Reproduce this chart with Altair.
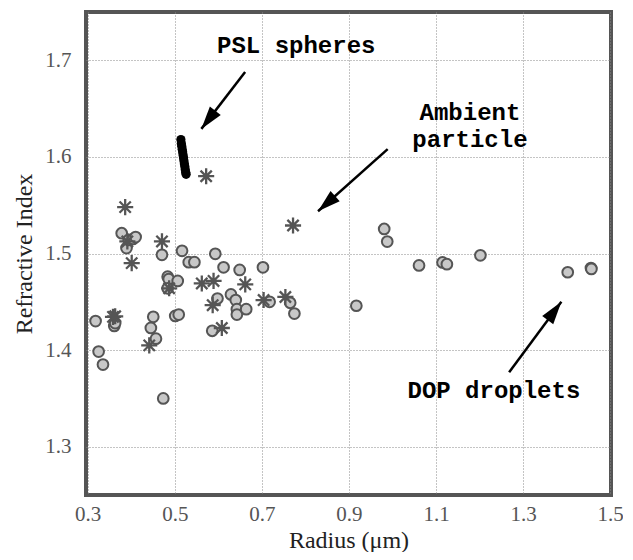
import math
import altair as alt
import pandas as pd

# DOP droplets / circles
circ_r = [0.318, 0.325, 0.335, 0.361, 0.363, 0.378, 0.389, 0.394, 0.404, 0.410,
          0.4705, 0.445, 0.4505, 0.4567, 0.4735, 0.4836, 0.486, 0.4836, 0.5067, 0.501,
          0.509, 0.5166, 0.532, 0.545, 0.593, 0.612, 0.586, 0.598, 0.629, 0.640,
          0.6426, 0.6426, 0.664, 0.649, 0.7025, 0.7178, 0.765, 0.7747, 0.917, 0.981,
          0.988, 1.061, 1.115, 1.125, 1.202, 1.4026, 1.456, 1.457]
circ_n = [1.430, 1.3985, 1.385, 1.425, 1.428, 1.521, 1.5056, 1.514, 1.515, 1.517,
          1.4986, 1.423, 1.4344, 1.4118, 1.350, 1.476, 1.4735, 1.4639, 1.4716, 1.4354,
          1.4368, 1.5028, 1.491, 1.491, 1.4997, 1.4857, 1.420, 1.4534, 1.4576, 1.4518,
          1.4424, 1.4368, 1.4424, 1.483, 1.4857, 1.45, 1.449, 1.4378, 1.4459, 1.5254,
          1.5123, 1.4877, 1.4907, 1.489, 1.4981, 1.4806, 1.485, 1.484]

# Ambient particles (asterisks)
star_r = [0.386, 0.391, 0.401, 0.4705, 0.358, 0.363, 0.4413, 0.487, 0.562, 0.589,
          0.587, 0.608, 0.6618, 0.704, 0.754, 0.572, 0.7716]
star_n = [1.548, 1.5125, 1.490, 1.5125, 1.4344, 1.435, 1.4049, 1.464, 1.469, 1.4716,
          1.4465, 1.4229, 1.468, 1.4518, 1.455, 1.580, 1.529]

# PSL spheres
psl_r = [0.514, 0.515, 0.516, 0.517, 0.518, 0.519, 0.520, 0.521, 0.522, 0.523, 0.524, 0.525, 0.526]
psl_n = [1.618, 1.614, 1.611, 1.608, 1.605, 1.602, 1.599, 1.596, 1.593, 1.590, 1.587, 1.584, 1.582]

# Annotations
label_text = ["PSL spheres", "Ambient", "particle", "DOP droplets"]
label_r = [0.779, 1.178, 1.178, 1.233]
label_n = [1.7146, 1.6455, 1.6175, 1.358]

arrow_tail_r = [0.6615, 0.989, 1.268]
arrow_tail_n = [1.688, 1.608, 1.377]
arrow_head_r = [0.561, 0.829, 1.388]
arrow_head_n = [1.629, 1.5437, 1.450]

x_ticks = [0.3, 0.5, 0.7, 0.9, 1.1, 1.3, 1.5]
y_ticks = [1.3, 1.4, 1.5, 1.6, 1.7]

W, H = 525, 483
XDOM = [0.296, 1.502]
YDOM = [1.25, 1.75]
px_x = W / (XDOM[1] - XDOM[0])
px_y = H / (YDOM[1] - YDOM[0])

angles = []
for tr, tn, hr, hn in zip(arrow_tail_r, arrow_tail_n, arrow_head_r, arrow_head_n):
    dx = (hr - tr) * px_x
    dy = -(hn - tn) * px_y
    a = math.degrees(math.atan2(dx, -dy)) % 360
    angles.append(a)

circ_df = pd.DataFrame({"r": circ_r, "n": circ_n})
star_df = pd.DataFrame({"r": star_r, "n": star_n})
psl_df = pd.DataFrame({"r": psl_r, "n": psl_n})
lab_df = pd.DataFrame({"r": label_r, "n": label_n, "t": label_text})
arr_df = pd.DataFrame({"r": arrow_tail_r, "n": arrow_tail_n, "r2": arrow_head_r,
                       "n2": arrow_head_n, "a": angles})

xs = alt.Scale(domain=XDOM, nice=False, zero=False)
ys = alt.Scale(domain=YDOM, nice=False, zero=False)

X = alt.X("r:Q", scale=xs, axis=alt.Axis(values=x_ticks, format=".1f", title="Radius (\u03bcm)",
                                          titleY=52, titleBaseline="alphabetic", labelPadding=8,
                                          labelFlush=False))
Y = alt.Y("n:Q", scale=ys, axis=alt.Axis(values=y_ticks, format=".1f", title="Refractive Index",
                                          titleX=-62, titleBaseline="middle", labelPadding=15,
                                          labelFlush=False))

circles = alt.Chart(circ_df).mark_point(
    shape="circle", filled=True, fill="#c8c8c8", stroke="#555555", strokeWidth=2,
    size=115, opacity=1
).encode(x=X, y=Y)

stars = alt.Chart(star_df).mark_point(
    shape="M-1,0L1,0M0,-1L0,1M-0.7,-0.7L0.7,0.7M-0.7,0.7L0.7,-0.7",
    filled=False, stroke="#555555", strokeWidth=2.3, size=260, opacity=1
).encode(x="r:Q", y="n:Q")

psl = alt.Chart(psl_df).mark_point(
    shape="circle", filled=True, color="black", size=85, opacity=1
).encode(x="r:Q", y="n:Q")

arrow_lines = alt.Chart(arr_df).mark_rule(color="black", strokeWidth=2.5).encode(
    x="r:Q", y="n:Q", x2="r2:Q", y2="n2:Q")

arrow_heads = alt.Chart(arr_df).mark_point(
    shape="M0,0L0.3,1L-0.3,1Z", filled=True, color="black", size=2100, opacity=1
).encode(x="r2:Q", y="n2:Q", angle=alt.Angle("a:Q", scale=None))

labels = alt.Chart(lab_df).mark_text(
    font="Liberation Mono", fontWeight="bold", fontSize=24, color="black",
    align="center", baseline="middle"
).encode(x="r:Q", y="n:Q", text="t:N")

chart = alt.layer(circles, stars, psl, arrow_lines, arrow_heads, labels).properties(
    width=W, height=H,
    padding={"left": 78, "top": 4, "right": 12, "bottom": 57},
    autosize=alt.AutoSizeParams(type="none"),
).configure_view(
    stroke="#555555", strokeWidth=4
).configure_axis(
    domain=False, ticks=False,
    grid=True, gridColor="#888888", gridDash=[1, 2], gridWidth=1, gridOpacity=1,
    labelFont="Liberation Serif", labelFontSize=21, labelColor="#555555",
    titleFont="Liberation Serif", titleFontSize=24, titleColor="#222222", titleFontWeight="normal",
)

chart.save("out.html", embed_options={"renderer": "svg", "actions": False})
